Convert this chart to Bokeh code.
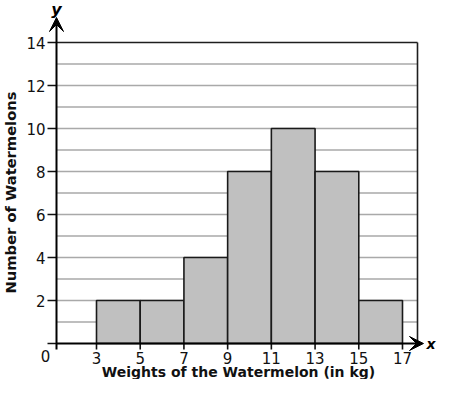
import math
from bokeh.plotting import figure
from bokeh.models import Range1d, Arrow, VeeHead
from bokeh.core.properties import value
from bokeh.embed import file_html
from bokeh.resources import INLINE

# ---- data ----
bin_edges = [3, 5, 7, 9, 11, 13, 15, 17]
counts = [2, 2, 4, 8, 10, 8, 2]
y_ticks = [2, 4, 6, 8, 10, 12, 14]
y_tick_labels = ["2", "4", "6", "8", "10", "12", "14"]
x_tick_labels = ["3", "5", "7", "9", "11", "13", "15", "17"]
grid_levels = [1, 2, 3, 4, 5, 6, 7, 8, 9, 10, 11, 12, 13]
x_title = "Weights of the Watermelon (in kg)"
y_title = "Number of Watermelons"

# ---- pixel <-> data helpers (layout only) ----
W, H = 438, 379
SX, SY = 21.857, 21.5          # pixels per unit


def dx(px):
    return 3 + (px - 96) / SX


def dy(py):
    return (343 - py) / SY


FONT = value("DejaVu Sans")

x_axis_pos = dx(56)
x_right = dx(417)
y_top = 14

p = figure(width=W, height=H, x_range=Range1d(dx(0), dx(W)),
           y_range=Range1d(dy(H), dy(0)), output_backend="svg",
           toolbar_location=None, min_border=0,
           x_axis_location=None, y_axis_location=None)
p.outline_line_color = None
p.xgrid.visible = False
p.ygrid.visible = False

# grid lines
n = len(grid_levels)
p.segment(x0=[x_axis_pos] * n, x1=[x_right] * n, y0=grid_levels, y1=grid_levels,
          line_color="#a9a9a9", line_width=1.5)
# border top and right
p.segment(x0=[x_axis_pos, x_right], x1=[x_right, x_right],
          y0=[y_top, 0], y1=[y_top, y_top], line_color="#1e1e1e", line_width=1.6)

# bars
p.quad(left=bin_edges[:-1], right=bin_edges[1:], bottom=0, top=counts,
       fill_color="#c0c0c0", line_color="#1a1a1a", line_width=1.6)

# tick marks
ny = len(y_ticks) + 1
p.segment(x0=[dx(47)] * ny, x1=[x_axis_pos] * ny, y0=[0] + y_ticks, y1=[0] + y_ticks,
          line_color="#111111", line_width=1.6)
nx = len(bin_edges)
p.segment(x0=bin_edges, x1=bin_edges, y0=[0] * nx, y1=[dy(349)] * nx,
          line_color="#111111", line_width=1.6)

# axis arrows
p.add_layout(Arrow(x_start=x_axis_pos, y_start=0, x_end=dx(423), y_end=0,
                   line_width=2, line_color="black",
                   end=VeeHead(size=14, fill_color="black", line_color="black",
                               line_width=1)))
p.add_layout(Arrow(x_start=x_axis_pos, y_start=dy(349), x_end=x_axis_pos, y_end=dy(17),
                   line_width=2, line_color="black",
                   end=VeeHead(size=14, fill_color="black", line_color="black",
                               line_width=1)))

# tick labels
p.text(x=[dx(45)] * len(y_ticks), y=y_ticks, text=y_tick_labels, text_font=FONT,
       text_font_size="15px", text_align="right", text_baseline="middle",
       text_color="#111111")
p.text(x=bin_edges, y=[dy(357.5)] * nx, text=x_tick_labels, text_font=FONT,
       text_font_size="15px", text_align="center", text_baseline="middle",
       text_color="#111111")
p.text(x=[dx(45)], y=[dy(355)], text=["0"], text_font=FONT,
       text_font_size="15px", text_align="center", text_baseline="middle",
       text_color="#111111")

# axis names
p.text(x=[dx(426)], y=[0], text=["x"], text_font=FONT, text_font_size="14px",
       text_font_style="bold italic", text_align="left", text_baseline="middle")
p.text(x=[dx(56)], y=[dy(9)], text=["y"], text_font=FONT, text_font_size="16px",
       text_font_style="bold italic", text_align="center", text_baseline="middle")

# titles
p.text(x=[dx(238)], y=[dy(371.5)], text=[x_title], text_font=FONT,
       text_font_size="14px", text_font_style="bold", text_align="center",
       text_baseline="middle", text_color="#111111")
p.text(x=[dx(10)], y=[dy(192)], text=[y_title], text_font=FONT,
       text_font_size="14.7px", text_font_style="bold", text_align="center",
       text_baseline="middle", angle=math.pi / 2, text_color="#111111")

open("out.html", "w").write(file_html(p, INLINE))
